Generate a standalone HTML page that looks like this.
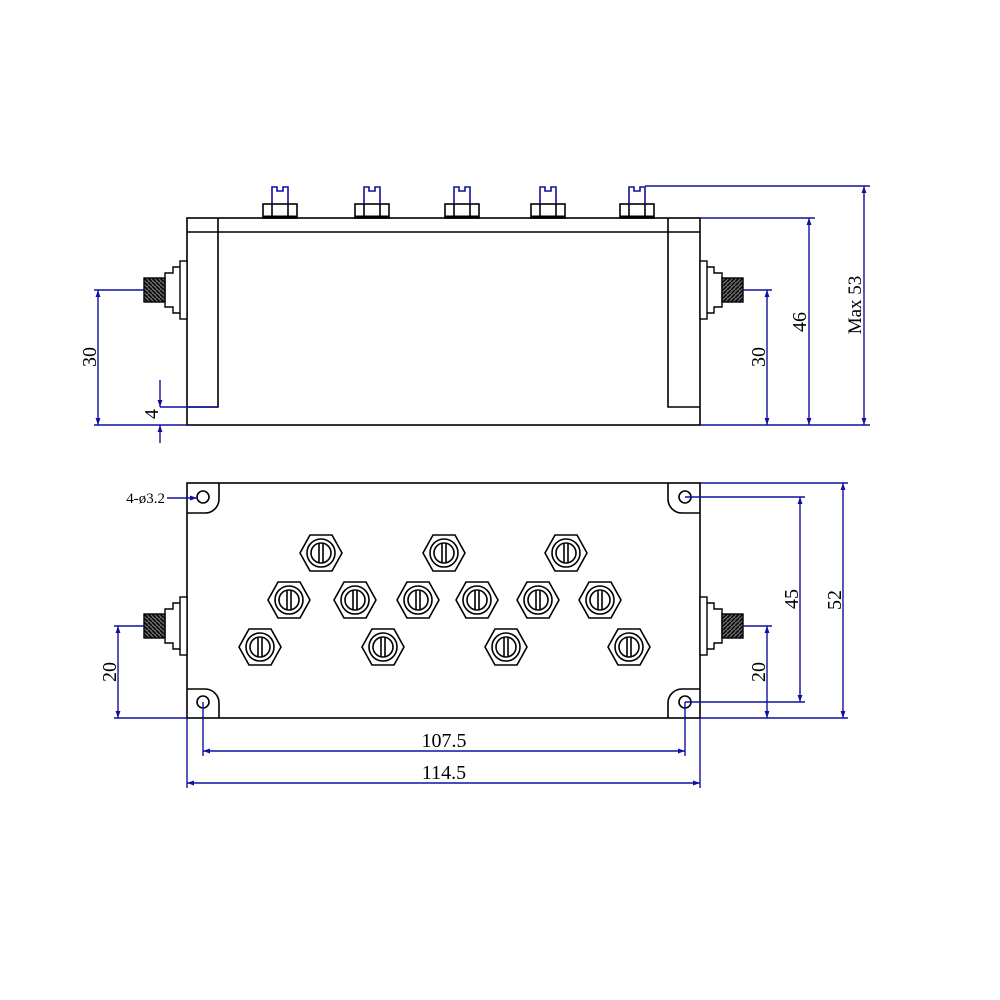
<!DOCTYPE html>
<html><head><meta charset="utf-8"><style>body{margin:0;background:#fff}svg{display:block}</style></head><body>
<svg width="1000" height="1000" viewBox="0 0 1000 1000" xmlns="http://www.w3.org/2000/svg">
<defs>
<marker id="a" viewBox="0 0 10 10" refX="10" refY="5" markerWidth="7" markerHeight="14" orient="auto-start-reverse" markerUnits="userSpaceOnUse"><path d="M0,1.5 L10,5 L0,8.5 z" fill="#1010a0"/></marker>
<pattern id="thr" width="4" height="4" patternUnits="userSpaceOnUse"><rect width="4" height="4" fill="#666"/><path d="M0,0 L4,4" stroke="#000" stroke-width="1.4"/></pattern>
<g id="hex" fill="none" stroke="#000" stroke-width="1.6">
<polygon points="-21,0 -11,-18 11,-18 21,0 11,18 -11,18"/>
<circle r="14"/><circle r="10"/>
<line x1="-2" y1="-10" x2="-2" y2="10"/><line x1="2" y1="-10" x2="2" y2="10"/>
</g>
<g id="scr" fill="none" stroke="#000" stroke-width="1.6">
<rect x="-17" y="204" width="34" height="14"/>
<line x1="-8" y1="204" x2="-8" y2="218"/><line x1="8" y1="204" x2="8" y2="218"/>
<path d="M-8,204 V187 H-3 V191 H3 V187 H8 V204" stroke="#1010a0"/>
<line x1="-17" y1="217" x2="17" y2="217" stroke-width="3"/>
</g>
<g id="conL" stroke="#000" stroke-width="1.4" fill="none">
<rect x="180" y="-29" width="7" height="58" fill="#fff"/>
<path d="M180,-23 H173 V-17 H165 V17 H173 V23 H180"/>
<rect x="144" y="-12" width="21" height="24" fill="url(#thr)"/>
</g>
</defs>
<g fill="none" stroke="#000" stroke-width="1.6">
<rect x="187" y="218" width="513" height="207"/>
<line x1="187" y1="232" x2="700" y2="232"/>
<path d="M218,218 V407 H187"/>
<path d="M668,218 V407 H700"/>
<rect x="187" y="483" width="513" height="235"/>
<path d="M187,513 H205 A14,14 0 0 0 219,499 V483"/>
<path d="M700,513 H682 A14,14 0 0 1 668,499 V483"/>
<path d="M187,689 H205 A14,14 0 0 1 219,703 V718"/>
<path d="M700,689 H682 A14,14 0 0 0 668,703 V718"/>
<circle cx="203" cy="497" r="6"/><circle cx="685" cy="497" r="6"/>
<circle cx="203" cy="702" r="6"/><circle cx="685" cy="702" r="6"/>
</g>
<use href="#scr" x="280"/><use href="#scr" x="372"/><use href="#scr" x="462"/><use href="#scr" x="548"/><use href="#scr" x="637"/>
<use href="#conL" transform="translate(0,290)"/>
<use href="#conL" transform="translate(887,290) scale(-1,1)"/>
<use href="#conL" transform="translate(0,626)"/>
<use href="#conL" transform="translate(887,626) scale(-1,1)"/>
<use href="#hex" x="321" y="553"/><use href="#hex" x="444" y="553"/><use href="#hex" x="566" y="553"/>
<use href="#hex" x="289" y="600"/><use href="#hex" x="355" y="600"/><use href="#hex" x="418" y="600"/><use href="#hex" x="477" y="600"/><use href="#hex" x="538" y="600"/><use href="#hex" x="600" y="600"/>
<use href="#hex" x="260" y="647"/><use href="#hex" x="383" y="647"/><use href="#hex" x="506" y="647"/><use href="#hex" x="629" y="647"/>
<g stroke="#1010a0" stroke-width="1.4" fill="none">
<line x1="94" y1="290" x2="144" y2="290"/><line x1="94" y1="425" x2="187" y2="425"/>
<line x1="98" y1="290" x2="98" y2="425" marker-start="url(#a)" marker-end="url(#a)"/>
<line x1="160" y1="407" x2="218" y2="407"/>
<line x1="160" y1="380" x2="160" y2="407" marker-end="url(#a)"/>
<line x1="160" y1="443" x2="160" y2="425" marker-end="url(#a)"/>
<line x1="743" y1="290" x2="772" y2="290"/><line x1="700" y1="425" x2="870" y2="425"/>
<line x1="767" y1="290" x2="767" y2="425" marker-start="url(#a)" marker-end="url(#a)"/>
<line x1="700" y1="218" x2="815" y2="218"/>
<line x1="809" y1="218" x2="809" y2="425" marker-start="url(#a)" marker-end="url(#a)"/>
<line x1="645" y1="186" x2="870" y2="186"/>
<line x1="864" y1="186" x2="864" y2="425" marker-start="url(#a)" marker-end="url(#a)"/>
<line x1="167" y1="498" x2="197" y2="498" marker-end="url(#a)"/>
<line x1="114" y1="626" x2="144" y2="626"/><line x1="114" y1="718" x2="187" y2="718"/>
<line x1="118" y1="626" x2="118" y2="718" marker-start="url(#a)" marker-end="url(#a)"/>
<line x1="743" y1="626" x2="772" y2="626"/><line x1="700" y1="718" x2="848" y2="718"/>
<line x1="767" y1="626" x2="767" y2="718" marker-start="url(#a)" marker-end="url(#a)"/>
<line x1="685" y1="497" x2="805" y2="497"/><line x1="685" y1="702" x2="805" y2="702"/>
<line x1="800" y1="497" x2="800" y2="702" marker-start="url(#a)" marker-end="url(#a)"/>
<line x1="700" y1="483" x2="848" y2="483"/>
<line x1="843" y1="483" x2="843" y2="718" marker-start="url(#a)" marker-end="url(#a)"/>
<line x1="203" y1="702" x2="203" y2="756"/><line x1="685" y1="702" x2="685" y2="756"/>
<line x1="203" y1="751" x2="685" y2="751" marker-start="url(#a)" marker-end="url(#a)"/>
<line x1="187" y1="718" x2="187" y2="788"/><line x1="700" y1="718" x2="700" y2="788"/>
<line x1="187" y1="783" x2="700" y2="783" marker-start="url(#a)" marker-end="url(#a)"/>
</g>
<g font-family="Liberation Serif, serif" fill="#000" font-size="20">
<text transform="translate(96,357) rotate(-90)" text-anchor="middle">30</text>
<text transform="translate(158,414) rotate(-90)" text-anchor="middle">4</text>
<text transform="translate(765,357) rotate(-90)" text-anchor="middle">30</text>
<text transform="translate(806,322) rotate(-90)" text-anchor="middle">46</text>
<text transform="translate(861,305) rotate(-90)" text-anchor="middle" font-size="19">Max 53</text>
<text x="165" y="503" text-anchor="end" font-size="15">4-ø3.2</text>
<text transform="translate(116,672) rotate(-90)" text-anchor="middle">20</text>
<text transform="translate(765,672) rotate(-90)" text-anchor="middle">20</text>
<text transform="translate(798,599) rotate(-90)" text-anchor="middle">45</text>
<text transform="translate(841,600) rotate(-90)" text-anchor="middle">52</text>
<text x="444" y="747" text-anchor="middle">107.5</text>
<text x="444" y="779" text-anchor="middle">114.5</text>
</g>
</svg>
</body></html>
